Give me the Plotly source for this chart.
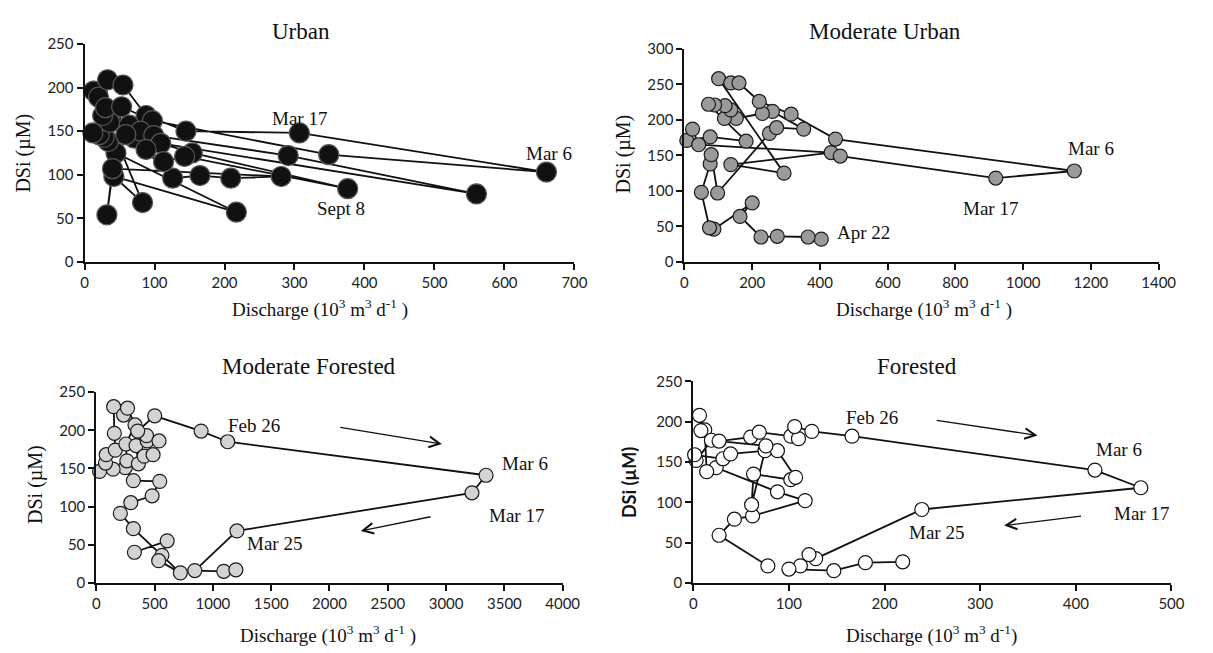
import plotly.graph_objects as go

# ---------------- data ----------------
urban_q = [13, 20, 83, 42, 217, 45, 34, 28, 21, 12, 36, 26, 30, 33, 55, 88, 145, 307, 660, 349,
           97, 53, 32, 40, 281, 209, 165, 126, 71, 64, 80, 99, 291, 560, 109, 154, 376, 143, 113, 88, 59]
urban_si = [196, 189, 68, 98, 57, 125, 138, 143, 146, 148, 160, 168, 177, 209, 203, 168, 150, 148, 103, 123,
            162, 178, 54, 107, 98, 96, 99, 96, 142, 157, 150, 145, 122, 78, 136, 125, 84, 121, 115, 129, 146]

modurb_q = [404, 365, 274, 226, 164, 200, 87, 74, 50, 76, 79, 98, 251, 272, 352, 260, 230, 153, 118, 137,
            120, 89, 71, 182, 76, 7, 24, 42, 433, 137, 294, 101, 137, 161, 221, 315, 446, 1151, 919, 460]
modurb_si = [32, 35, 36, 35, 64, 83, 46, 48, 98, 138, 151, 97, 181, 189, 187, 212, 209, 202, 202, 214,
             220, 221, 222, 170, 176, 171, 187, 165, 154, 137, 125, 258, 252, 252, 226, 208, 173, 128, 118, 149]

modfor_q = [327, 608, 563, 535, 721, 318, 206, 296, 479, 544, 318, 248, 144, 28, 79, 85, 163, 155, 149, 234,
            268, 332, 254, 262, 361, 341, 411, 487, 437, 431, 538, 355, 501, 899, 1127, 3343, 3222, 1206, 845, 1093, 1197]
modfor_si = [40, 55, 36, 29, 13, 71, 91, 105, 114, 133, 134, 151, 149, 146, 157, 168, 174, 196, 231, 220,
             229, 207, 182, 160, 156, 180, 166, 168, 186, 193, 186, 199, 219, 199, 185, 141, 118, 68, 16, 15, 17]

for_q = [78, 27, 43, 62, 117, 88, 24, 14, 12, 6.5, 8, 19, 3, 1.4, 31, 39, 75, 61, 63, 102, 107, 88, 76, 27, 60,
         69, 102, 110, 106, 124, 166, 420, 468, 239, 128, 121, 112, 100, 147, 180, 219]
for_si = [21, 59, 79, 83, 102, 113, 143, 138, 190, 208, 189, 177, 152, 159, 154, 160, 164, 97, 135, 128, 131,
          164, 170, 176, 181, 187, 182, 179, 194, 188, 182, 140, 118, 91, 30, 35, 21, 17, 15, 25, 26]

panel_titles = ["Urban", "Moderate Urban", "Moderate Forested", "Forested"]

W, H = 1213, 653

def px(x):
    return x / W

def py(y):
    return 1 - y / H

fig = go.Figure()

series = [
    (urban_q, urban_si, "x", "y", 20, "#111111", "#555555"),
    (modurb_q, modurb_si, "x2", "y2", 14, "#9a9a9a", "#1a1a1a"),
    (modfor_q, modfor_si, "x3", "y3", 14, "#d3d3d3", "#1a1a1a"),
    (for_q, for_si, "x4", "y4", 14, "#ffffff", "#111111"),
]
for q, si, xa, ya, ms, fc, lc in series:
    fig.add_trace(go.Scatter(
        x=q, y=si, xaxis=xa, yaxis=ya, mode="lines+markers",
        line=dict(color="#111111", width=1.8),
        marker=dict(size=ms, color=fc, line=dict(color=lc, width=1.2)),
        cliponaxis=False, showlegend=False, hoverinfo="skip"))

tickfont = dict(family="Lato", size=15, color="#222222")
serif = "Liberation Serif"

def axis(dom, rng, dtick, anchor):
    return dict(domain=dom, range=rng, dtick=dtick, anchor=anchor, showline=True,
                linecolor="#111111", linewidth=2, ticks="outside", ticklen=6, tickwidth=1.5,
                tickcolor="#111111", showgrid=False, zeroline=False, tickfont=tickfont,
                fixedrange=True)

fig.update_layout(
    width=W, height=H, margin=dict(l=0, r=0, t=0, b=0),
    paper_bgcolor="white", plot_bgcolor="white",
    xaxis=axis([px(82), px(581)], [0, 700], 100, "y"),
    yaxis=axis([py(259), py(35)], [0, 250], 50, "x"),
    xaxis2=axis([px(693), px(1176)], [0, 1400], 200, "y2"),
    yaxis2=axis([py(259), py(40)], [0, 300], 50, "x2"),
    xaxis3=axis([px(94), px(569)], [0, 4000], 500, "y3"),
    yaxis3=axis([py(589), py(393)], [0, 250], 50, "x3"),
    xaxis4=axis([px(702), px(1189)], [0, 500], 100, "y4"),
    yaxis4=axis([py(589), py(382)], [0, 250], 50, "x4"),
)

ann = []
# panel titles
for t, (cx, cy) in zip(panel_titles, [(302, 22), (897, 22), (311, 367), (930, 367)]):
    ann.append(dict(text=t, x=px(cx), y=py(cy), xref="paper", yref="paper", showarrow=False,
                    xanchor="center", yanchor="middle", font=dict(family=serif, size=23, color="#111")))

# x-axis titles
xt = "Discharge (10<sup>3</sup> m<sup>3</sup> d<sup>-1</sup> )"
xt4 = "Discharge (10<sup>3</sup> m<sup>3</sup> d<sup>-1</sup>)"
for t, (cx, cy) in zip([xt, xt, xt, xt4], [(322, 307), (937, 307), (330, 642), (945, 642)]):
    ann.append(dict(text=t, x=px(cx), y=py(cy), xref="paper", yref="paper", showarrow=False,
                    xanchor="center", yanchor="middle", font=dict(family=serif, size=19, color="#111")))

# y-axis titles
for (cx, cy), fnt in zip([(20, 147), (631, 148), (32, 488), (636, 486)],
                         [dict(family=serif, size=20, color="#111")] * 3 +
                         [dict(family="Lato", size=18, color="#111")]):
    txt = "DSi (µM)" if fnt["family"] == serif else "<b>DSi (µM)</b>"
    ann.append(dict(text=txt, x=px(cx), y=py(cy), xref="paper", yref="paper", showarrow=False,
                    textangle=-90, xanchor="center", yanchor="middle", font=fnt))

# data labels
labels = [
    ("Mar 17", 307, 164, "x", "y"), ("Mar 6", 663, 124, "x", "y"), ("Sept 8", 366, 61, "x", "y"),
    ("Mar 6", 1199, 159, "x2", "y2"), ("Mar 17", 904, 75, "x2", "y2"), ("Apr 22", 528, 42, "x2", "y2"),
    ("Feb 26", 1356, 206, "x3", "y3"), ("Mar 6", 3677, 156, "x3", "y3"), ("Mar 17", 3607, 88, "x3", "y3"),
    ("Mar 25", 1528, 52, "x3", "y3"),
    ("Feb 26", 187, 205, "x4", "y4"), ("Mar 6", 445, 165, "x4", "y4"), ("Mar 17", 468.5, 86.6, "x4", "y4"),
    ("Mar 25", 254, 62, "x4", "y4"),
]
for t, x, y, xr, yr in labels:
    ann.append(dict(text=t, x=x, y=y, xref=xr, yref=yr, showarrow=False, xanchor="center",
                    yanchor="middle", font=dict(family=serif, size=19, color="#111")))

# arrows (tail -> head)
arrows = [
    (2080, 204, 2964, 182, "x3", "y3"), (2880, 87, 2268, 68, "x3", "y3"),
    (253, 202, 360, 183, "x4", "y4"), (407, 83, 325, 71, "x4", "y4"),
]
for tx, ty, hx, hy, xr, yr in arrows:
    ann.append(dict(text="", x=hx, y=hy, ax=tx, ay=ty, xref=xr, yref=yr, axref=xr, ayref=yr,
                    showarrow=True, arrowhead=5, arrowsize=1.6, arrowwidth=1.3, arrowcolor="#111",
                    standoff=0, startstandoff=0))

fig.update_layout(annotations=ann)
fig.write_html("out.html")
